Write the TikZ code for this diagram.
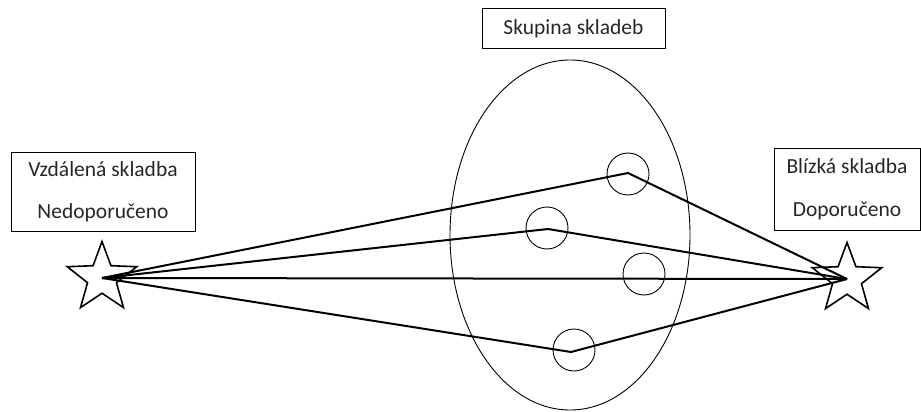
\documentclass[tikz,border=0pt]{standalone}
\usepackage{fontspec}
\setmainfont{Carlito}
\usetikzlibrary{shapes.geometric}
\begin{document}
\begin{tikzpicture}[x=1pt,y=-1pt,
  lbl/.style={draw,line width=1pt,inner sep=0pt,font=\fontsize{21.5}{25}\selectfont,text=black!85},
  starnode/.style={star,star points=5,star point ratio=2.4,draw,line width=1.6pt,minimum size=73pt,inner sep=0pt},
  song/.style={circle,draw,line width=0.9pt,minimum size=42pt,inner sep=0pt},
  link/.style={line width=2pt,line join=miter}]
\useasboundingbox (0,0) rectangle (921,412);
\node[lbl,minimum width=183pt,minimum height=40pt] (grp) at (573.5,29) {Skupina skladeb};
\node[lbl,minimum width=184pt,minimum height=79pt,align=center] (far) at (103,191.5) {Vzdálená skladba\\[17pt]Nedoporučeno};
\node[lbl,minimum width=146pt,minimum height=82pt,align=center] (near) at (847,189) {Blízká skladba\\[18pt]Doporučeno};
\draw[line width=0.9pt] (570,235) ellipse [x radius=120, y radius=175];
\node[song] (c1) at (628,174) {};
\node[song] (c2) at (547,228) {};
\node[song] (c3) at (644,274) {};
\node[song] (c4) at (574,350) {};
\node[starnode] (ls) at (102,278) {};
\node[starnode] (rs) at (847,279) {};
\coordinate (p1) at (628,173);
\coordinate (p2) at (548,229);
\coordinate (p4) at (571,352);
\draw[link] (ls.center) -- (p1) -- (rs.center);
\draw[link] (ls.center) -- (p2) -- (rs.center);
\draw[link] (ls.center) -- (rs.center);
\draw[link] (ls.center) -- (p4) -- (rs.center);
\end{tikzpicture}
\end{document}
